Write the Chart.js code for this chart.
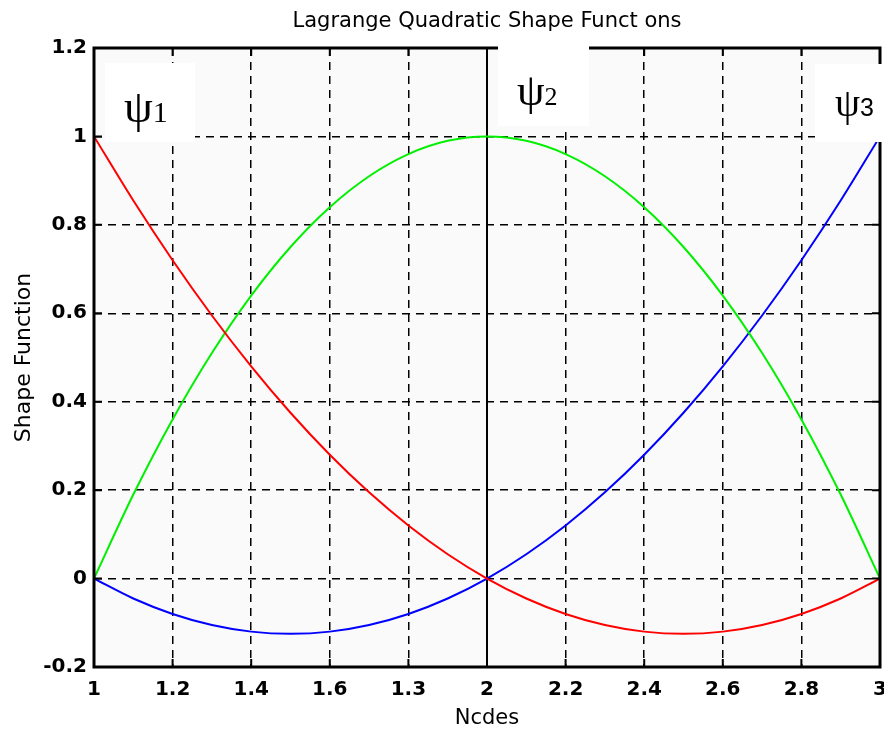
<!DOCTYPE html>
<html>
<head>
<meta charset="utf-8">
<script src="https://cdn.jsdelivr.net/npm/chart.js@4"></script>
<style>
  html, body {margin: 0; padding: 0; background: #ffffff;}
  #wrap {width: 884px; height: 731px;}
</style>
</head>
<body>
<div id="wrap"><canvas id="shape_chart" width="884" height="731"></canvas></div>
<script>
//----------------------------------------
//--- Input data
//----------------------------------------

var nodes_x = [1.0, 1.1, 1.2, 1.3, 1.4, 1.5, 1.6, 1.7, 1.8, 1.9, 2.0,
               2.1, 2.2, 2.3, 2.4, 2.5, 2.6, 2.7, 2.8, 2.9, 3.0];

var psi1_values = [1.0, 0.855, 0.72, 0.595, 0.48, 0.375, 0.28, 0.195, 0.12, 0.055, 0.0,
                   -0.045, -0.08, -0.105, -0.12, -0.125, -0.12, -0.105, -0.08, -0.045, 0.0];
var psi2_values = [0.0, 0.19, 0.36, 0.51, 0.64, 0.75, 0.84, 0.91, 0.96, 0.99, 1.0,
                   0.99, 0.96, 0.91, 0.84, 0.75, 0.64, 0.51, 0.36, 0.19, 0.0];
var psi3_values = [0.0, -0.045, -0.08, -0.105, -0.12, -0.125, -0.12, -0.105, -0.08, -0.045, 0.0,
                   0.055, 0.12, 0.195, 0.28, 0.375, 0.48, 0.595, 0.72, 0.855, 1.0];

var x_tick_labels = ['1', '1.2', '1.4', '1.6', '1.3', '2', '2.2', '2.4', '2.6', '2.8', '3'];
var y_tick_labels = ['-0.2', '0', '0.2', '0.4', '0.6', '0.8', '1', '1.2'];

var chart_title = 'Lagrange Quadratic Shape Funct ons';

function toPoints(values) {
    return nodes_x.map(function (x, i) { return {x: x, y: values[i]}; });
}

//----------------------------------------
//--- Plugins: plot background, frame, title, labels
//----------------------------------------

var plotBackground = {
    id: 'plotBackground',
    beforeDraw: function (chart) {
        var a = chart.chartArea, ctx = chart.ctx;
        ctx.save();
        ctx.fillStyle = '#fafafa';
        ctx.fillRect(a.left, a.top, a.right - a.left, a.bottom - a.top);
        ctx.restore();
    }
};

var frameAndLabels = {
    id: 'frameAndLabels',
    beforeDatasetsDraw: function (chart) {
        var a = chart.chartArea, ctx = chart.ctx, xs = chart.scales.x;
        ctx.save();
        ctx.strokeStyle = '#000';
        ctx.lineWidth = 2;
        var x2 = Math.round(xs.getPixelForValue(2));
        ctx.beginPath();
        ctx.moveTo(x2, a.top);
        ctx.lineTo(x2, a.bottom);
        ctx.stroke();
        ctx.restore();
    },
    afterDraw: function (chart) {
        var a = chart.chartArea, ctx = chart.ctx;
        var xs = chart.scales.x, ys = chart.scales.y;
        ctx.save();
        ctx.strokeStyle = '#000';

        // short inward tick marks on all four sides
        ctx.lineWidth = 2;
        ctx.beginPath();
        xs.ticks.forEach(function (t) {
            var px = xs.getPixelForValue(t.value);
            ctx.moveTo(px, a.top); ctx.lineTo(px, a.top + 8);
            ctx.moveTo(px, a.bottom); ctx.lineTo(px, a.bottom - 8);
        });
        ys.ticks.forEach(function (t) {
            var py = ys.getPixelForValue(t.value);
            ctx.moveTo(a.left, py); ctx.lineTo(a.left + 8, py);
            ctx.moveTo(a.right, py); ctx.lineTo(a.right - 8, py);
        });
        ctx.stroke();

        ctx.lineWidth = 3;
        ctx.strokeRect(a.left, a.top, a.right - a.left, a.bottom - a.top);

        // title, centred over the plot area
        ctx.fillStyle = '#000';
        ctx.font = '21px "DejaVu Sans"';
        ctx.textAlign = 'center';
        ctx.textBaseline = 'middle';
        ctx.fillText(chart_title, (a.left + a.right) / 2, 22);

        // psi label boxes
        var boxes = [
            {x: 105, y: 63, w: 90, h: 79, n: '1', size: 46, sub: 30, base: 59},
            {x: 498, y: 46, w: 91, h: 80, n: '2', size: 44, sub: 26, base: 59},
            {x: 815, y: 64, w: 69, h: 78, n: '3', size: 40, sub: 25, base: 52}
        ];
        boxes.forEach(function (b) {
            ctx.fillStyle = '#ffffff';
            ctx.fillRect(b.x, b.y, b.w, b.h);
            ctx.fillStyle = '#000';
            ctx.textBaseline = 'alphabetic';
            ctx.textAlign = 'left';
            ctx.font = b.size + 'px "Liberation Serif"';
            var tx = b.x + (b.n === '3' ? 20 : 19);
            var ty = b.y + b.base;
            ctx.fillText('\u03c8', tx, ty);
            var w = ctx.measureText('\u03c8').width;
            ctx.font = b.sub + 'px ' + (b.n === '3' ? '"Liberation Sans"' : '"Liberation Serif"');
            ctx.fillText(b.n, tx + w, ty);
        });
        ctx.restore();
    }
};

//----------------------------------------
//--- Line chart
//----------------------------------------

var shape_chart = new Chart(document.getElementById('shape_chart').getContext('2d'), {
    type: 'line',
    data: {
        datasets: [{
            label: 'psi1', data: toPoints(psi1_values),
            borderColor: '#ff0000', borderWidth: 2, pointRadius: 0, tension: 0.3
        }, {
            label: 'psi2', data: toPoints(psi2_values),
            borderColor: '#00f000', borderWidth: 2, pointRadius: 0, tension: 0.3
        }, {
            label: 'psi3', data: toPoints(psi3_values),
            borderColor: '#0000ff', borderWidth: 2, pointRadius: 0, tension: 0.3
        }]
    },
    options: {
        responsive: false, animation: false,
        layout: {padding: {left: 0, right: 4, top: 48, bottom: 0}},
        plugins: {
            legend: {display: false},
            tooltip: {enabled: false},
            title: {display: false}
        },
        scales: {
            x: {
                type: 'linear', min: 1, max: 3,
                afterBuildTicks: function (s) {
                    s.ticks = x_tick_labels.map(function (t, i) { return {value: 1 + i * 0.2}; });
                },
                afterFit: function (s) { s.height = 64; s.paddingLeft = 0; s.paddingRight = 0; },
                ticks: {
                    color: '#000', padding: 11, maxRotation: 0, autoSkip: false,
                    font: {family: 'DejaVu Sans', size: 20, weight: 'bold'},
                    callback: function (v, i) { return x_tick_labels[i]; }
                },
                grid: {color: '#000', lineWidth: 1.5, drawTicks: false},
                border: {display: false, dash: [8, 6]},
                title: {
                    display: true, text: 'Ncdes', color: '#000', padding: {top: 0, bottom: 0},
                    font: {family: 'DejaVu Sans', size: 21}
                }
            },
            y: {
                type: 'linear', min: -0.2, max: 1.2,
                afterBuildTicks: function (s) {
                    s.ticks = y_tick_labels.map(function (t, i) { return {value: -0.2 + i * 0.2}; });
                },
                afterFit: function (s) { s.width = 94; s.paddingTop = 0; s.paddingBottom = 0; },
                ticks: {
                    color: '#000', padding: 7, autoSkip: false,
                    font: {family: 'DejaVu Sans', size: 20, weight: 'bold'},
                    callback: function (v, i) { return y_tick_labels[i]; }
                },
                grid: {color: '#000', lineWidth: 1.5, drawTicks: false},
                border: {display: false, dash: [8, 6]},
                title: {
                    display: true, text: 'Shape Function', color: '#000', padding: {top: 11, bottom: 0},
                    font: {family: 'DejaVu Sans', size: 22}
                }
            }
        }
    },
    plugins: [plotBackground, frameAndLabels]
});
</script>
</body>
</html>
